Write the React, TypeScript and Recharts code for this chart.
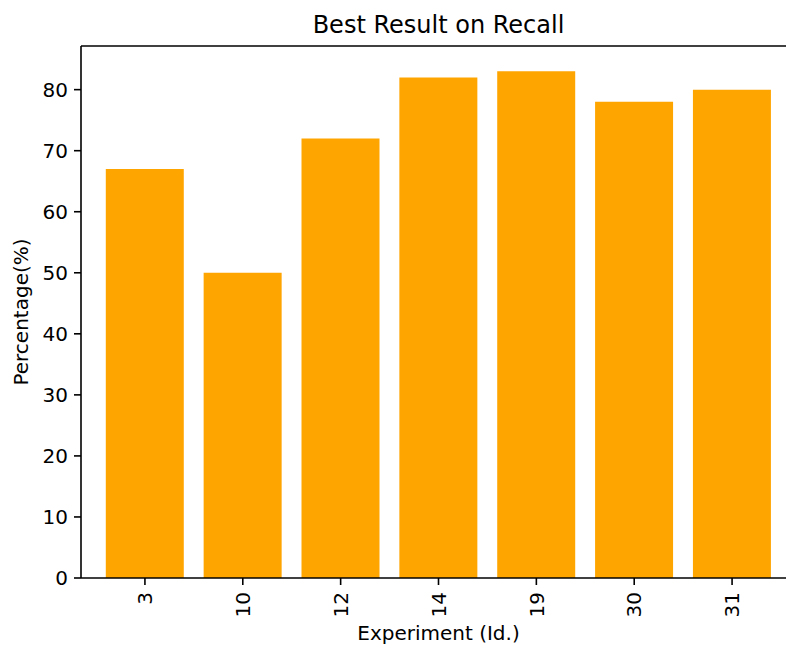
import { BarChart, Bar, XAxis, YAxis, ReferenceLine } from 'recharts'

const experiments = ['3', '10', '12', '14', '19', '30', '31']
const recall = [67, 50, 72, 82, 83, 78, 80]
const yTicks = [0, 10, 20, 30, 40, 50, 60, 70, 80]
const yMax = 87.15

const FONT = '"DejaVu Sans", sans-serif'
const TICK_PX = 20
const TITLE_PX = 24

const data = experiments.map((id, i) => ({ id, value: recall[i] }))

function RotatedTick({ x, y, payload }: any) {
  return (
    <g transform={`translate(${x},${y})`}>
      <text
        transform="rotate(-90)"
        textAnchor="end"
        dy="0.36em"
        fontFamily={FONT}
        fontSize={TICK_PX}
        fill="#000"
      >
        {payload.value}
      </text>
    </g>
  )
}

export default function App() {
  return (
    <div style={{ position: 'absolute', left: 0, top: 0, width: 786, height: 648, overflow: 'hidden', background: '#fff' }}>
      <BarChart
        width={800}
        height={648}
        data={data}
        margin={{ top: 46, right: 4, bottom: 0, left: 0 }}
        barCategoryGap="10%"
      >
        <XAxis
          dataKey="id"
          interval={0}
          height={70}
          padding={{ left: 15, right: 15 }}
          tickSize={7}
          tickMargin={7}
          axisLine={{ stroke: '#000', strokeWidth: 1.6 }}
          tickLine={{ stroke: '#000', strokeWidth: 1.6 }}
          tick={<RotatedTick />}
          label={{
            content: ({ viewBox }: any) => (
              <text
                x={viewBox.x + viewBox.width / 2}
                y={640}
                textAnchor="middle"
                fontFamily={FONT}
                fontSize={TICK_PX}
                fill="#000"
              >
                Experiment (Id.)
              </text>
            ),
          }}
        />
        <YAxis
          domain={[0, yMax]}
          ticks={yTicks}
          allowDataOverflow
          width={81}
          tickSize={7}
          tickMargin={6}
          axisLine={{ stroke: '#000', strokeWidth: 1.6 }}
          tickLine={{ stroke: '#000', strokeWidth: 1.6 }}
          tick={{ fill: '#000', fontFamily: FONT, fontSize: TICK_PX }}
          label={{
            content: ({ viewBox }: any) => {
              const cy = viewBox.y + viewBox.height / 2
              return (
                <text
                  x={28}
                  y={cy}
                  transform={`rotate(-90, 28, ${cy})`}
                  textAnchor="middle"
                  fontFamily={FONT}
                  fontSize={TICK_PX}
                  fill="#000"
                >
                  Percentage(%)
                </text>
              )
            },
          }}
        />
        <Bar dataKey="value" fill="#ffa500" isAnimationActive={false} />
        {/* top spine, carries the chart title */}
        <ReferenceLine
          y={yMax}
          stroke="#000"
          strokeWidth={1.6}
          label={{
            content: ({ viewBox }: any) => (
              <text
                x={viewBox.x + viewBox.width / 2}
                y={viewBox.y - 13}
                textAnchor="middle"
                fontFamily={FONT}
                fontSize={TITLE_PX}
                fill="#000"
              >
                Best Result on Recall
              </text>
            ),
          }}
        />
      </BarChart>
    </div>
  )
}
